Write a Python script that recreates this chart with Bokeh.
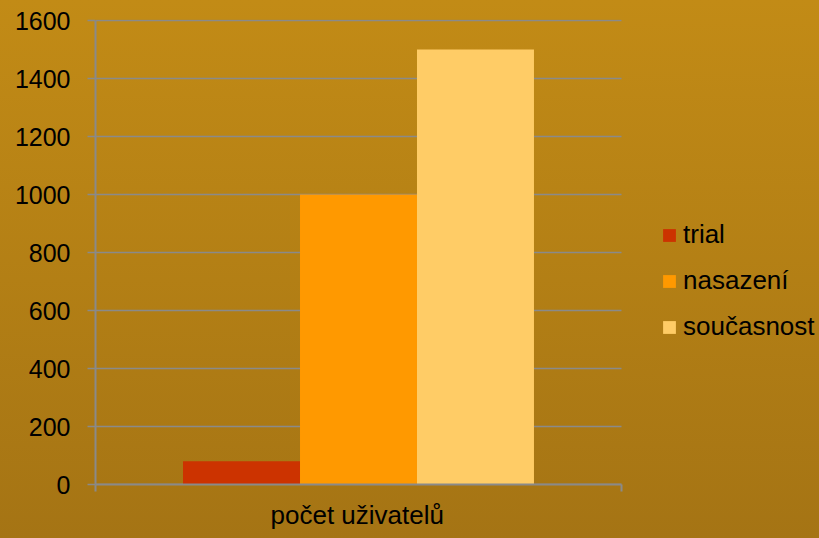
from bokeh.plotting import figure
from bokeh.models import (Range1d, FixedTicker, Legend, LegendItem, ColumnDataSource, Title)
from bokeh.transform import dodge
from bokeh.embed import file_html
from bokeh.resources import INLINE

# ---- data ----
categories = ["počet uživatelů"]
series_names = ["trial", "nasazení", "současnost"]
trial = [80]
nasazeni = [1000]
soucasnost = [1500]
y_ticks = [0, 200, 400, 600, 800, 1000, 1200, 1400, 1600]

# ---- style ----
colors = ["#CC3300", "#FF9900", "#FFCC66"]
grid_col = "#8A8A8A"
font = "Liberation Sans"
bar_w = 0.2224
legend_space = 198 / 526   # extra x-range (in category widths) kept free for the legend
top_pad = 3.5

cat_idx = list(range(len(categories)))
cat_lo = -0.5
cat_hi = len(categories) - 0.5

p = figure(width=819, height=538,
           x_range=Range1d(cat_lo, cat_hi + legend_space),
           y_range=Range1d(0, y_ticks[-1] + top_pad),
           output_backend="svg", toolbar_location=None,
           min_border_left=95, min_border_right=0, min_border_top=19,
           min_border_bottom=54)

p.background_fill_color = None
p.border_fill_color = None
p.outline_line_color = None
p.stylesheets = [":host { background: linear-gradient(to bottom, #C28B16, #A57414); }"]

# horizontal gridlines limited to the category area
p.xgrid.visible = False
p.ygrid.visible = False
p.segment(x0=[cat_lo] * len(y_ticks), x1=[cat_hi] * len(y_ticks),
          y0=y_ticks, y1=y_ticks, line_color=grid_col, line_width=1.5)

renderers = []
for i, (name, vals) in enumerate(zip(series_names, [trial, nasazeni, soucasnost])):
    src = ColumnDataSource(dict(x=cat_idx, top=vals))
    r = p.vbar(x=dodge("x", (i - 1) * bar_w), top="top",
               width=bar_w, bottom=0, source=src, fill_color=colors[i],
               line_color=None)
    renderers.append((name, r))

# y axis
ya = p.yaxis[0]
ya.ticker = FixedTicker(ticks=y_ticks)
ya.bounds = (0, y_ticks[-1])
ya.axis_line_color = grid_col
ya.axis_line_width = 2
ya.major_tick_line_color = grid_col
ya.major_tick_line_width = 1.5
ya.major_tick_out = 8
ya.major_tick_in = 0
ya.minor_tick_line_color = None
ya.major_label_standoff = 17
ya.major_label_text_font = font
ya.major_label_text_font_size = "25px"
ya.major_label_text_color = "black"

# x axis (category boundary ticks)
xa = p.xaxis[0]
bounds = [k - 0.5 for k in range(len(categories) + 1)]
xa.ticker = FixedTicker(ticks=bounds)
xa.bounds = (cat_lo, cat_hi)
xa.major_label_overrides = {b: "" for b in bounds}
xa.axis_line_color = grid_col
xa.axis_line_width = 2
xa.major_tick_line_color = grid_col
xa.major_tick_line_width = 2
xa.major_tick_out = 7
xa.major_tick_in = 0
xa.minor_tick_line_color = None
xa.major_label_text_font_size = "1px"
xa.major_label_standoff = 0

# category label, centred under the category area
cat_title = Title(text=categories[0], align="left", offset=175,
                  text_font=font, text_font_size="26px", text_font_style="normal",
                  text_color="black", standoff=12)
p.add_layout(cat_title, "below")

legend = Legend(items=[LegendItem(label=n, renderers=[r]) for n, r in renderers],
                location=(566, 142), glyph_width=16, glyph_height=16,
                spacing=15, label_standoff=6, padding=0, margin=0,
                border_line_color=None, background_fill_alpha=0,
                label_text_font=font, label_text_font_size="26px",
                label_text_color="black")
p.add_layout(legend)

open("out.html", "w").write(file_html(p, INLINE))
